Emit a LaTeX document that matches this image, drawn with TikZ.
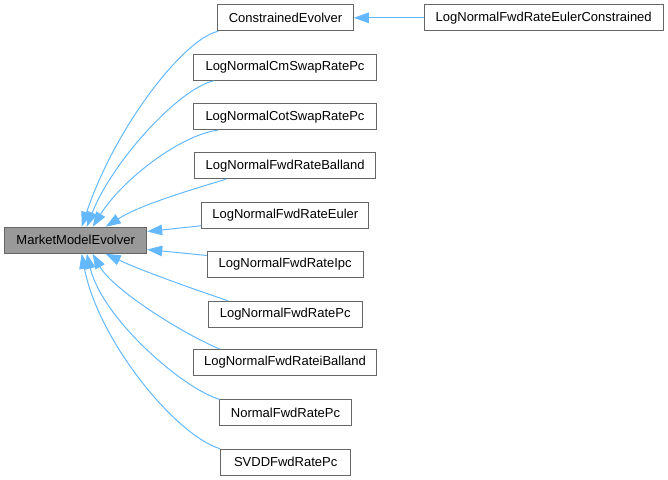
\documentclass[tikz,border=0pt]{standalone}
\usepackage{fontspec}
\setmainfont{Liberation Sans}
\usetikzlibrary{arrows.meta,calc}
\definecolor{edgeblue}{HTML}{63B8FF}
\definecolor{boxborder}{HTML}{666666}
\definecolor{mainfill}{HTML}{999999}
\begin{document}
\begin{tikzpicture}[x=1bp,y=-1bp,
  box/.style={draw=boxborder, line width=1bp, fill=white, inner sep=0pt,
    minimum height=26bp, font=\fontsize{13bp}{15bp}\selectfont},
  edge/.style={draw=edgeblue, line width=1bp, -{Triangle[length=15bp,width=10.5bp]}}]
\useasboundingbox (0,0) rectangle (668,480);
\node[box, fill=mainfill, minimum width=142bp] (mme) at (75.7,240.3) {MarketModelEvolver};
\node[box, minimum width=135.6bp] (ce) at (285.5,17.8) {ConstrainedEvolver};
\node[box, minimum width=239.3bp] (lnfrec) at (543.7,17.8) {LogNormalFwdRateEulerConstrained};
\node[box, minimum width=183.4bp] (cm) at (285,67.3) {LogNormalCmSwapRatePc};
\node[box, minimum width=183.4bp] (cot) at (285,116.7) {LogNormalCotSwapRatePc};
\node[box, minimum width=181bp] (bal) at (285.2,165.7) {LogNormalFwdRateBalland};
\node[box, minimum width=167.3bp] (eul) at (285.3,215.3) {LogNormalFwdRateEuler};
\node[box, minimum width=155.7bp] (ipc) at (285.2,264.5) {LogNormalFwdRateIpc};
\node[box, minimum width=153.7bp] (pc) at (285.2,314.2) {LogNormalFwdRatePc};
\node[box, minimum width=183.4bp] (ibal) at (285,362.5) {LogNormalFwdRateiBalland};
\node[box, minimum width=132.4bp] (nrm) at (285.5,412.8) {NormalFwdRatePc};
\node[box, minimum width=130bp] (svdd) at (285.7,462.3) {SVDDFwdRatePc};

\draw[edge] (lnfrec.west) -- (ce.east);
\draw[edge] ($(ce.south west)+(1,0)$) .. controls (185,38) and (116,125) .. ($(mme.north west)+(77.5,0)$);
\draw[edge] ($(cm.south west)+(21,0)$) .. controls (180,88) and (113,160) .. ($(mme.north west)+(82.5,0)$);
\draw[edge] ($(cot.south west)+(25,0)$) .. controls (180,135) and (122,180) .. ($(mme.north west)+(88.5,0)$);
\draw[edge] ($(bal.south west)+(32,0)$) .. controls (190,190) and (140,205) .. ($(mme.north west)+(101.5,0)$);
\draw[edge] ($(eul.south west)+(0,-3)$) -- ($(mme.north east)+(0,4.7)$);
\draw[edge] ($(ipc.north west)+(0,4.5)$) -- ($(mme.south east)+(0,-4.3)$);
\draw[edge] ($(pc.north west)+(20,0)$) .. controls (190,288) and (140,270) .. ($(mme.south west)+(101.5,0)$);
\draw[edge] ($(ibal.north west)+(27,0)$) .. controls (185,335) and (113,290) .. ($(mme.south west)+(88.5,0)$);
\draw[edge] ($(nrm.north west)+(1,0)$) .. controls (185,390) and (103,320) .. ($(mme.south west)+(82.5,0)$);
\draw[edge] (svdd.north west) .. controls (175,435) and (98,340) .. ($(mme.south west)+(77.5,0)$);
\end{tikzpicture}
\end{document}
